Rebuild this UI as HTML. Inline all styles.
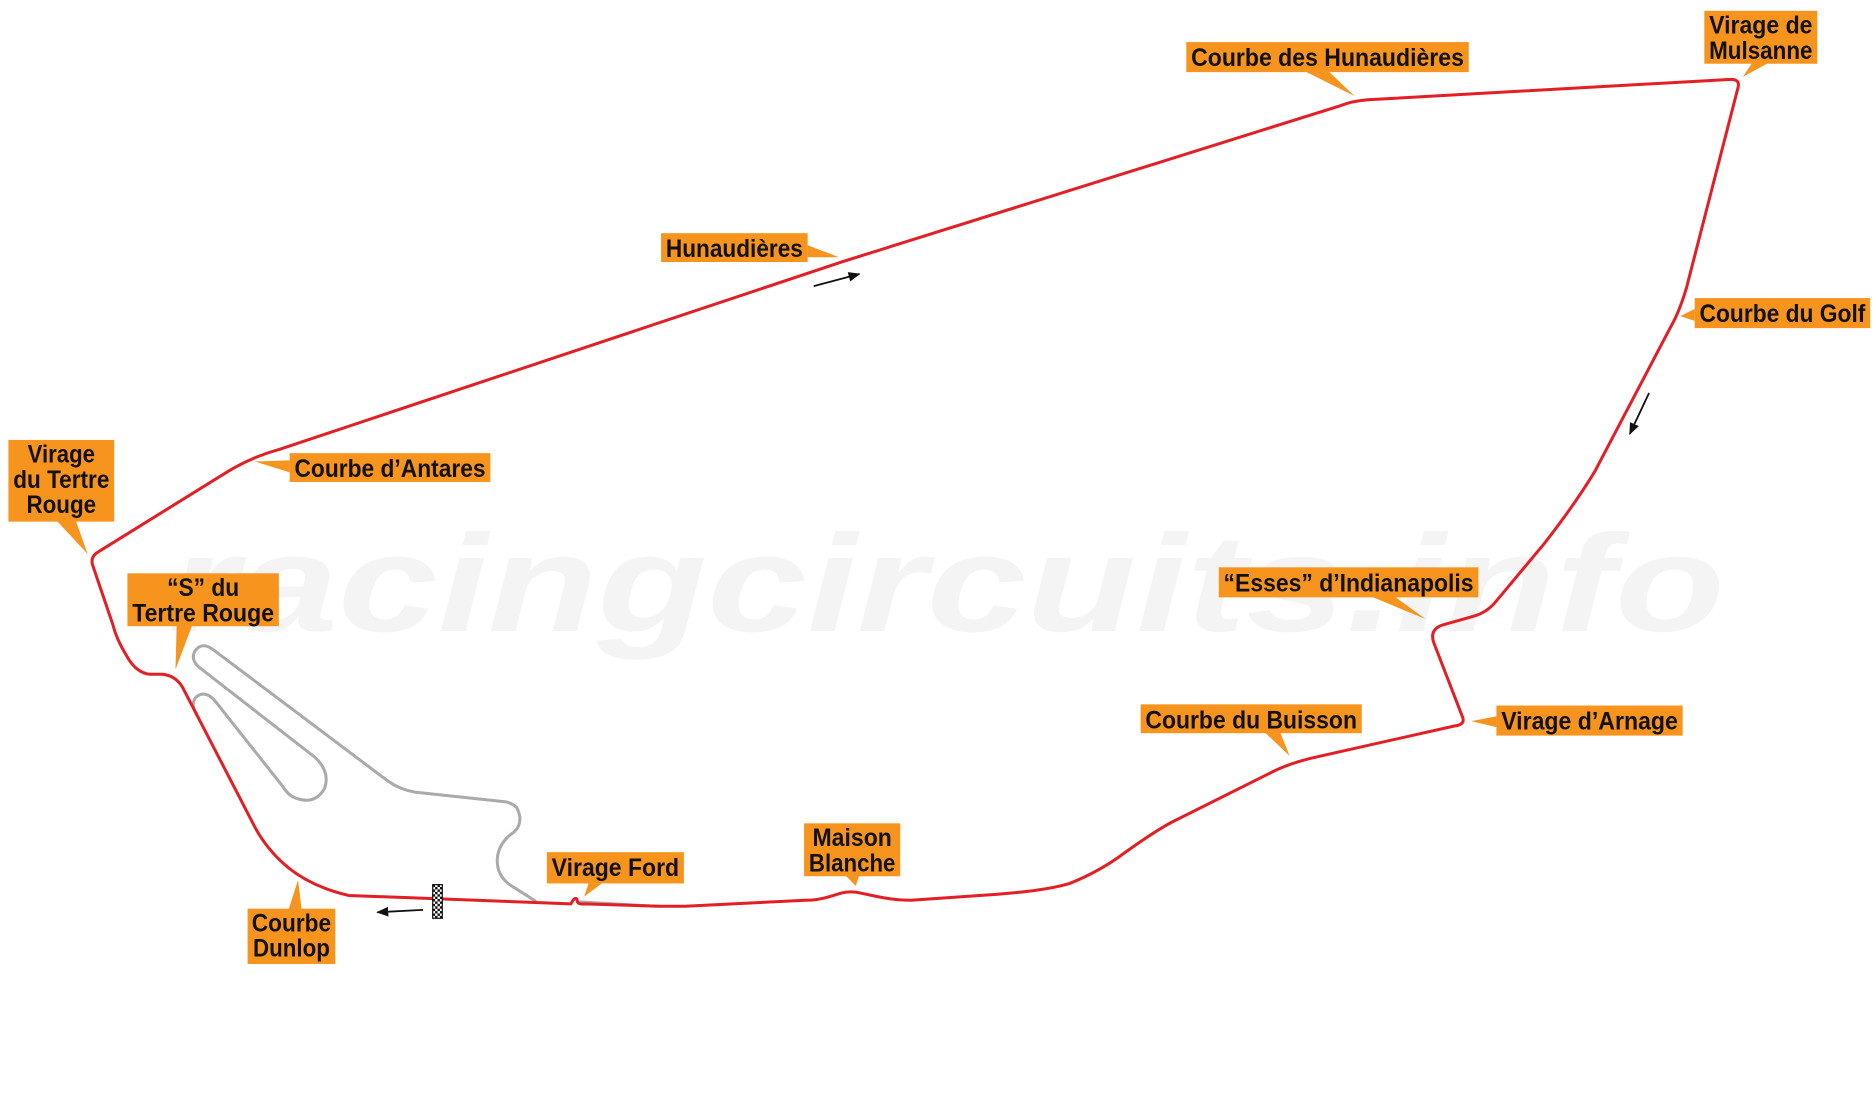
<!DOCTYPE html>
<html><head><meta charset="utf-8"><style>
html,body{margin:0;padding:0;background:#fff;width:1875px;height:1110px;overflow:hidden}
svg{display:block}
.l{font-family:"Liberation Sans",sans-serif;font-weight:bold;font-size:21px;fill:#111}
</style></head><body>
<svg width="1875" height="1110" viewBox="0 0 1560 923.5" xmlns="http://www.w3.org/2000/svg">
<defs>
<marker id="ah" markerWidth="10" markerHeight="8" refX="9" refY="4" orient="auto" markerUnits="userSpaceOnUse"><path d="M0,0 L10,4 L0,8 Z" fill="#111"/></marker>
<pattern id="chk" width="4" height="4" patternUnits="userSpaceOnUse"><rect width="4" height="4" fill="#fff"/><rect width="2" height="2" fill="#111"/><rect x="2" y="2" width="2" height="2" fill="#111"/></pattern>
</defs>
<text x="140" y="525" font-family="Liberation Sans" font-style="italic" font-weight="bold" font-size="115" fill="#f4f4f4" textLength="1295" lengthAdjust="spacingAndGlyphs">racingcircuits.info</text>
<!-- Bugatti circuit -->
<path d="M446,750 L424,736 Q412,727 414,712 Q416,700 428,692 Q436,684 430,672 Q426,668 420,667 L345,659 Q333,657 323,650 L178,541 Q168,533 162,542 Q158,550 168,557 L262,630 Q275,642 270,656 Q262,670 246,664 Q240,662 235,654 L178,582 Q170,574 163,580 Q158,587 164,594" fill="none" stroke="#aaa" stroke-width="2.5"/>
<path d="M480,750 L550,754" fill="none" stroke="#aaa" stroke-width="2"/>
<!-- main track -->
<path d="M290,745 Q260,738 240,722 Q222,707 212,688 L152,572 Q146,562 135,561 L125,561 Q113,560 105,545 Q97,532 94,520 L77,470 Q75,463 82,459 L190,392 Q210,380 232,374 L700,218 L1115,88 Q1125,84 1138,83 L1440,66 Q1448,66 1446,73 L1403,240 Q1397,260 1390,272 L1327,392 Q1310,420 1285,452 L1245,500 Q1237,510 1225,513 L1200,520 Q1189,524 1193,535 L1217,597 Q1219,603 1210,604 L1090,631 Q1070,636 1055,644 L975,684 Q960,692 935,710 Q915,725 890,735 Q870,741 830,744 L758,749 Q745,749 730,746 L716,743 Q708,741 700,743 L690,746 Q680,749 670,749 L570,754 L548,754 L486,752 Q480,753 480,748 Q478,746 475,752 L448,751 L290,745 Z" fill="none" stroke="#e31e24" stroke-width="2.5" stroke-linejoin="round"/>
<rect x="360" y="736" width="8" height="28" fill="url(#chk)" stroke="#111" stroke-width="1"/>
<line x1="677" y1="238" x2="715" y2="228" stroke="#111" stroke-width="1.5" marker-end="url(#ah)"/>
<line x1="1372" y1="327" x2="1356" y2="361" stroke="#111" stroke-width="1.5" marker-end="url(#ah)"/>
<line x1="352" y1="757" x2="314" y2="759" stroke="#111" stroke-width="1.5" marker-end="url(#ah)"/>
<g fill="#f7941d">
<rect x="987" y="35" width="235" height="25"/><polygon points="1085,59 1105,59 1127,80"/>
<rect x="1418" y="9" width="94" height="44"/><polygon points="1458,52 1472,52 1450,64"/>
<rect x="550" y="194" width="122" height="24"/><polygon points="672,204 672,214 698,214"/>
<rect x="1410" y="248" width="146" height="25"/><polygon points="1410,257 1410,267 1398,263"/>
<rect x="7" y="366" width="88" height="68"/><polygon points="47,433 63,433 73,461"/>
<rect x="241" y="377" width="167" height="24"/><polygon points="241,383 241,393 212,384"/>
<rect x="106" y="477" width="126" height="44"/><polygon points="147,520 160,520 146,557"/>
<rect x="1014" y="472" width="216" height="25"/><polygon points="1140,496 1160,496 1186,515"/>
<rect x="949" y="586" width="184" height="24"/><polygon points="1052,609 1065,609 1073,629"/>
<rect x="1245" y="587" width="155" height="25"/><polygon points="1245,596 1245,605 1224,600"/>
<rect x="669" y="685" width="80" height="44"/><polygon points="703,728 715,728 712,737"/>
<rect x="455" y="709" width="114" height="26"/><polygon points="490,734 502,734 486,746"/>
<rect x="206" y="756" width="73" height="46"/><polygon points="240,757 251,757 248,732"/>
</g>
<g class="l" text-anchor="middle" lengthAdjust="spacingAndGlyphs">
<text x="1104.5" y="55" textLength="227" lengthAdjust="spacingAndGlyphs">Courbe des Hunaudières</text>
<text x="1465" y="28" textLength="86" lengthAdjust="spacingAndGlyphs">Virage de</text><text x="1465" y="49" textLength="86" lengthAdjust="spacingAndGlyphs">Mulsanne</text>
<text x="611" y="214" textLength="114" lengthAdjust="spacingAndGlyphs">Hunaudières</text>
<text x="1483" y="268" textLength="138" lengthAdjust="spacingAndGlyphs">Courbe du Golf</text>
<text x="51" y="385" textLength="56" lengthAdjust="spacingAndGlyphs">Virage</text><text x="51" y="406" textLength="80" lengthAdjust="spacingAndGlyphs">du Tertre</text><text x="51" y="427" textLength="58" lengthAdjust="spacingAndGlyphs">Rouge</text>
<text x="324.5" y="397" textLength="159" lengthAdjust="spacingAndGlyphs">Courbe d’Antares</text>
<text x="169" y="496" textLength="60" lengthAdjust="spacingAndGlyphs">“S” du</text><text x="169" y="517" textLength="118" lengthAdjust="spacingAndGlyphs">Tertre Rouge</text>
<text x="1122" y="492" textLength="208" lengthAdjust="spacingAndGlyphs">“Esses” d’Indianapolis</text>
<text x="1041" y="606" textLength="176" lengthAdjust="spacingAndGlyphs">Courbe du Buisson</text>
<text x="1322.5" y="607" textLength="147" lengthAdjust="spacingAndGlyphs">Virage d’Arnage</text>
<text x="709" y="704" textLength="66" lengthAdjust="spacingAndGlyphs">Maison</text><text x="709" y="725" textLength="72" lengthAdjust="spacingAndGlyphs">Blanche</text>
<text x="512" y="729" textLength="106" lengthAdjust="spacingAndGlyphs">Virage Ford</text>
<text x="242.5" y="775" textLength="66" lengthAdjust="spacingAndGlyphs">Courbe</text><text x="242.5" y="796" textLength="64" lengthAdjust="spacingAndGlyphs">Dunlop</text>
</g>
</svg>
</body></html>
